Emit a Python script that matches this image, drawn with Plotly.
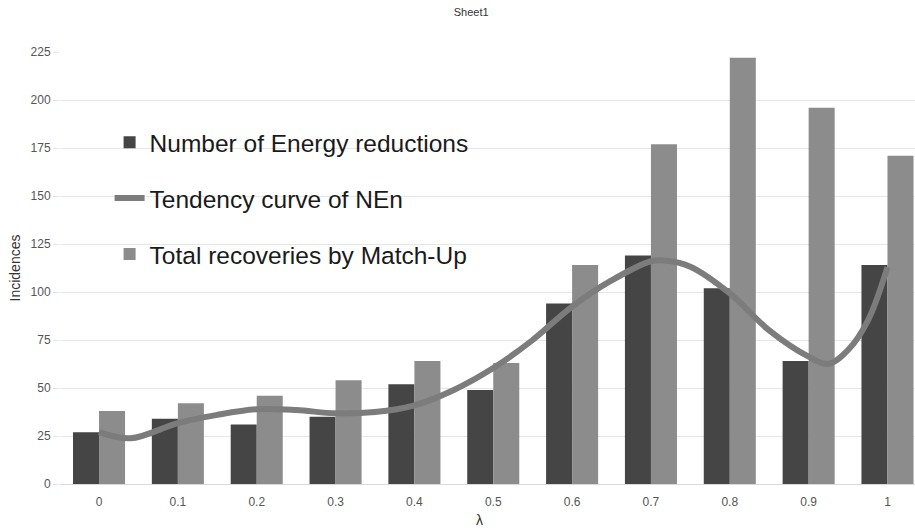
import plotly.graph_objects as go

# Category labels for lambda
lambda_labels = ["0", "0.1", "0.2", "0.3", "0.4", "0.5", "0.6", "0.7", "0.8", "0.9", "1"]

# Bar series
energy_reductions = [27, 34, 31, 35, 52, 49, 94, 119, 102, 64, 114]
total_recoveries = [38, 42, 46, 54, 64, 63, 114, 177, 222, 196, 171]

# Tendency curve of NEn (position along the category axis, value)
curve_pos = [0, 0.4, 1, 1.5, 2, 2.5, 3, 3.5, 4, 4.5, 5, 5.5, 6, 6.5, 7, 7.2, 7.5, 8, 8.5, 9, 9.25, 9.5, 9.75, 10]
curve_val = [27, 23.8, 31.7, 36, 38.9, 38.5, 36.8, 37.5, 41, 49, 60.4, 75, 92.4, 106, 116, 116.3, 113.2, 99.3, 80, 66.3, 62.5, 69.8, 85, 113]

y_ticks = [0, 25, 50, 75, 100, 125, 150, 175, 200, 225]

idx = list(range(len(lambda_labels)))

fig = go.Figure()
fig.add_trace(go.Bar(
    x=idx, y=energy_reductions, name="Number of Energy reductions",
    marker=dict(color="#454545", line=dict(width=0)),
    legendgroup="a",
))
fig.add_trace(go.Scatter(
    x=curve_pos, y=curve_val, name="Tendency curve of NEn",
    mode="lines", line=dict(color="#7c7c7c", width=6, shape="spline", smoothing=1.0),
    legendgroup="b",
))
fig.add_trace(go.Bar(
    x=idx, y=total_recoveries, name="Total recoveries by Match-Up",
    marker=dict(color="#8c8c8c", line=dict(width=0)),
    legendgroup="c",
))

fig.update_layout(
    width=915, height=532,
    margin=dict(l=60, r=0, t=52, b=48),
    paper_bgcolor="white", plot_bgcolor="white",
    font=dict(family="Liberation Sans, Arial, sans-serif", color="#333333"),
    barmode="group", bargap=0.34, bargroupgap=0,
    title=dict(text="Sheet1", x=0.515, xanchor="center", y=0.977, yanchor="middle",
               font=dict(size=11, color="#333333")),
    showlegend=True,
    legend=dict(
        x=0.058, y=0.843, xanchor="left", yanchor="top",
        bgcolor="rgba(0,0,0,0)",
        font=dict(size=24.5, color="#1a1a1a"),
        traceorder="grouped",
        tracegroupgap=21,
        itemwidth=30,
    ),
    xaxis=dict(
        range=[-0.495, 10.349],
        tickmode="array", tickvals=idx, ticktext=lambda_labels,
        tickfont=dict(size=12, color="#555555"),
        ticklabelstandoff=9,
        showgrid=False, zeroline=False, showline=False,
        ticks="",
    ),
    yaxis=dict(
        range=[0, 225],
        tickmode="array", tickvals=y_ticks,
        tickfont=dict(size=12, color="#555555"),
        showgrid=True, gridcolor="#e6e6e6", gridwidth=1,
        zeroline=True, zerolinecolor="#d9d9d9", zerolinewidth=1,
        ticks="outside", ticklen=6, tickcolor="#e6e6e6",
        showline=False,
        title=dict(text="Incidences", font=dict(size=14, color="#333333"), standoff=6),
    ),
    annotations=[dict(
        text="λ", xref="paper", yref="paper", x=0.491, y=-0.083,
        xanchor="center", yanchor="middle", showarrow=False,
        font=dict(size=14, color="#333333"),
    )],
)

fig.write_html("out.html")
